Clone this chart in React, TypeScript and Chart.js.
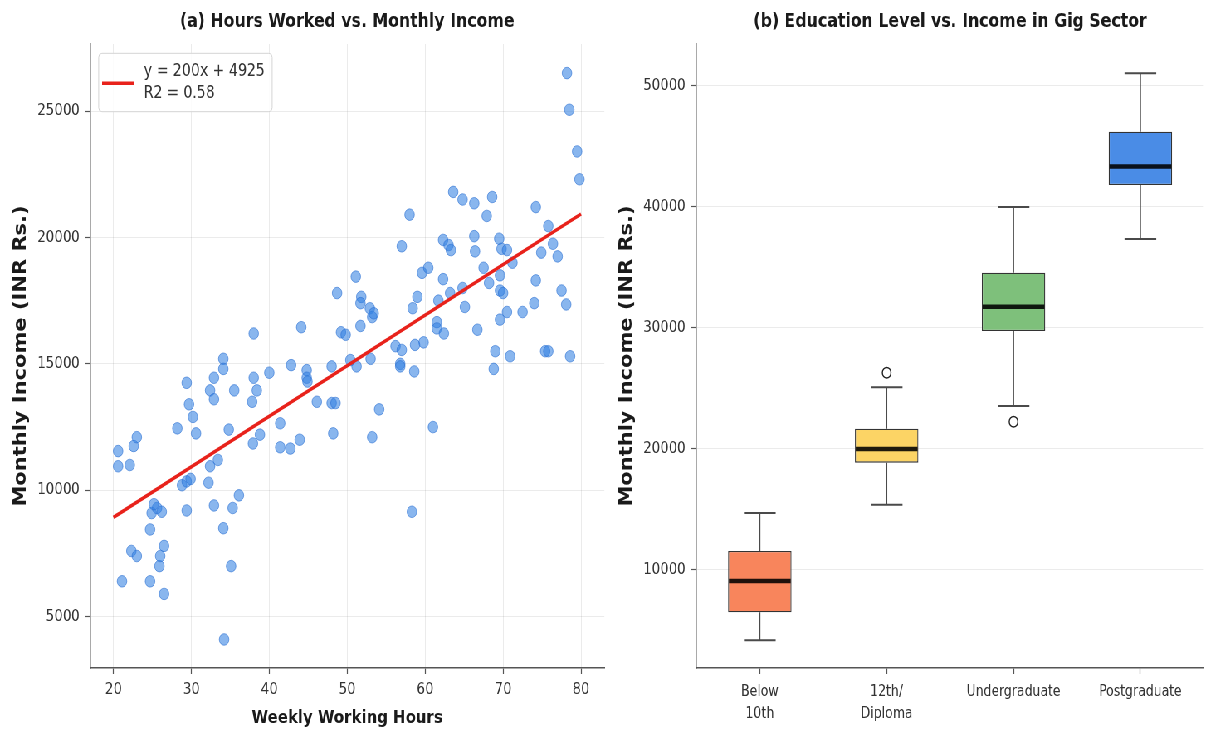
import React, { useEffect, useRef } from 'react';
import Chart from 'chart.js/auto';

// ---- Panel (a): weekly hours vs monthly income ----
const HOURS = [
  21.1, 22.3, 23.0, 24.7, 26.5, 25.9, 26.0, 26.5, 24.7, 24.9, 25.6, 26.2, 25.2, 29.4, 28.8, 29.4, 29.9, 32.2,
  32.9, 36.1, 35.3, 34.1, 35.1, 34.2, 20.6, 20.6, 22.1, 22.6, 23.0, 28.2, 29.4, 29.7, 30.2, 30.6, 32.9, 32.4,
  32.9, 34.1, 34.1, 35.5, 34.8, 33.4, 32.4, 38.0, 38.0, 38.4, 37.8, 37.9, 38.8, 40.0, 41.4, 41.4, 42.7, 43.9,
  44.1, 42.8, 44.8, 44.8, 44.9, 46.1, 48.0, 48.5, 48.2, 48.0, 48.7, 49.2, 49.8, 78.2, 78.5, 79.5, 79.8, 58.0,
  57.0, 63.6, 64.8, 66.3, 68.6, 67.9, 74.2, 75.8, 76.4, 74.9, 77.0, 62.3, 63.0, 63.3, 66.3, 66.4, 69.5, 69.8,
  70.5, 51.1, 51.8, 51.7, 52.9, 53.2, 53.4, 51.7, 59.6, 60.4, 62.3, 67.5, 69.6, 71.2, 74.2, 77.5, 78.1, 68.2,
  64.8, 63.2, 61.7, 59.0, 58.4, 69.6, 70.0, 65.1, 74.0, 72.5, 70.5, 69.6, 61.5, 61.5, 62.4, 66.7, 59.8, 58.7,
  56.2, 57.0, 56.8, 56.8, 58.6, 50.4, 51.2, 53.0, 69.0, 70.9, 68.8, 75.4, 75.8, 78.6, 54.1, 53.2, 61.0, 58.3,
];
const INCOME = [
  6400, 7600, 7400, 6400, 5900, 7000, 7400, 7800, 8450, 9100, 9300, 9150, 9450, 9200, 10200, 10350, 10450, 10300,
  9400, 9800, 9300, 8500, 7000, 4100, 11550, 10950, 11000, 11750, 12100, 12450, 14250, 13400, 12900, 12250, 14450, 13950,
  13600, 15200, 14800, 13950, 12400, 11200, 10950, 16200, 14450, 13950, 13500, 11850, 12200, 14650, 12650, 11700, 11650, 12000,
  16450, 14950, 14750, 14450, 14300, 13500, 13450, 13450, 12250, 14900, 17800, 16250, 16150, 26500, 25050, 23400, 22300, 20900,
  19650, 21800, 21500, 21350, 21600, 20850, 21200, 20450, 19750, 19400, 19250, 19900, 19700, 19500, 20050, 19450, 19950, 19550,
  19500, 18450, 17650, 17400, 17200, 16850, 17000, 16500, 18600, 18800, 18350, 18800, 18500, 19000, 18300, 17900, 17350, 18200,
  18000, 17800, 17500, 17650, 17200, 17900, 17800, 17250, 17400, 17050, 17050, 16750, 16650, 16400, 16200, 16350, 15850, 15750,
  15700, 15550, 15000, 14900, 14700, 15150, 14900, 15200, 15500, 15300, 14800, 15500, 15500, 15300, 13200, 12100, 12500, 9150,
];
const SLOPE = 200;
const INTERCEPT = 4925;
const R2 = 0.58;
const FIT_X = [20, 80];
const HOURS_TICKS = [20, 30, 40, 50, 60, 70, 80];
const INCOME_TICKS = [5000, 10000, 15000, 20000, 25000];

// ---- Panel (b): income by education level ----
const LEVELS: (string | string[])[] = [['Below', '10th'], ['12th/', 'Diploma'], 'Undergraduate', 'Postgraduate'];
const WHISK_LO = [4200, 15400, 23550, 37350];
const Q1 = [6500, 18870, 29750, 41820];
const MEDIAN = [9100, 20000, 31750, 43350];
const Q3 = [11570, 21680, 34570, 46220];
const WHISK_HI = [14700, 25100, 40000, 51050];
const OUTLIERS = [null, 26300, 22250, null];
const BOX_COLORS = ['#f8855c', '#fcd465', '#7ec07b', '#4a8ce6'];
const EDU_TICKS = [10000, 20000, 30000, 40000, 50000];

// The figure is laid out on a wider stage and squeezed horizontally.
const SQUEEZE = 0.83;
const STAGE_W = 1206 / SQUEEZE;
const STAGE_H = 735;
const LEFT_W = 735;
const RIGHT_W = 722;

const FONT = "'DejaVu Sans', sans-serif";
const GRID = 'rgba(0,0,0,0.08)';
const AXIS = '#555';
const TICK_TEXT = '#333';

const fitLegend = {
  id: 'fitLegend',
  afterDatasetsDraw(chart: any) {
    const { ctx, chartArea } = chart;
    const x0 = chartArea.left + 10.4;
    const y0 = chartArea.top + 9.3;
    ctx.save();
    ctx.beginPath();
    ctx.roundRect(x0, y0, 209, 58.4, 4);
    ctx.fillStyle = 'rgba(255,255,255,0.85)';
    ctx.fill();
    ctx.strokeStyle = '#d4d4d4';
    ctx.lineWidth = 1;
    ctx.stroke();
    ctx.beginPath();
    ctx.moveTo(x0 + 4.1, y0 + 30);
    ctx.lineTo(x0 + 42.2, y0 + 30);
    ctx.strokeStyle = '#e8221b';
    ctx.lineWidth = 3.6;
    ctx.stroke();
    ctx.fillStyle = '#333';
    ctx.font = `17px ${FONT}`;
    ctx.textBaseline = 'middle';
    ctx.textAlign = 'left';
    ctx.fillText(`y = ${SLOPE}x + ${INTERCEPT}`, x0 + 54.3, y0 + 18.4);
    ctx.fillText(`R2 = ${R2.toFixed(2)}`, x0 + 54.3, y0 + 40);
    ctx.restore();
  },
};

const boxWhiskers = {
  id: 'boxWhiskers',
  beforeDatasetsDraw(chart: any) {
    const { ctx } = chart;
    const y = chart.scales.y;
    const meta = chart.getDatasetMeta(1);
    ctx.save();
    ctx.strokeStyle = '#4a4a4a';
    meta.data.forEach((bar: any, i: number) => {
      const cx = bar.x;
      const half = bar.width / 4;
      ctx.lineWidth = 1.5;
      ctx.beginPath();
      ctx.moveTo(cx, y.getPixelForValue(Q3[i]));
      ctx.lineTo(cx, y.getPixelForValue(WHISK_HI[i]));
      ctx.moveTo(cx, y.getPixelForValue(Q1[i]));
      ctx.lineTo(cx, y.getPixelForValue(WHISK_LO[i]));
      ctx.stroke();
      ctx.lineWidth = 2;
      ctx.beginPath();
      ctx.moveTo(cx - half, y.getPixelForValue(WHISK_HI[i]));
      ctx.lineTo(cx + half, y.getPixelForValue(WHISK_HI[i]));
      ctx.moveTo(cx - half, y.getPixelForValue(WHISK_LO[i]));
      ctx.lineTo(cx + half, y.getPixelForValue(WHISK_LO[i]));
      ctx.stroke();
    });
    ctx.restore();
  },
  afterDatasetsDraw(chart: any) {
    const { ctx } = chart;
    const y = chart.scales.y;
    const meta = chart.getDatasetMeta(1);
    ctx.save();
    ctx.strokeStyle = 'rgba(0,0,0,0.88)';
    ctx.lineWidth = 4.5;
    meta.data.forEach((bar: any, i: number) => {
      const py = y.getPixelForValue(MEDIAN[i]);
      ctx.beginPath();
      ctx.moveTo(bar.x - bar.width / 2 + 1, py);
      ctx.lineTo(bar.x + bar.width / 2 - 1, py);
      ctx.stroke();
    });
    ctx.restore();
  },
};

export default function App() {
  const leftRef = useRef<HTMLCanvasElement>(null);
  const rightRef = useRef<HTMLCanvasElement>(null);

  useEffect(() => {
    document.body.style.margin = '0';
    Chart.defaults.font.family = FONT;
    Chart.defaults.color = TICK_TEXT;

    const scatterChart = new Chart(leftRef.current as HTMLCanvasElement, {
      type: 'scatter',
      data: {
        datasets: [
          {
            type: 'line',
            label: 'Linear fit',
            data: FIT_X.map((x) => ({ x, y: SLOPE * x + INTERCEPT })),
            borderColor: '#e8221b',
            borderWidth: 3.6,
            pointRadius: 0,
            fill: false,
            tension: 0,
          },
          {
            type: 'scatter',
            label: 'Workers',
            data: HOURS.map((h, i) => ({ x: h, y: INCOME[i] })),
            backgroundColor: 'rgba(52,130,225,0.58)',
            borderColor: 'rgba(40,110,210,0.6)',
            borderWidth: 1,
            pointRadius: 5.8,
          },
        ],
      } as any,
      options: {
        animation: false,
        responsive: false,
        devicePixelRatio: 1,
        layout: { padding: { left: 0, right: LEFT_W - 728.2, top: 0, bottom: 0 } },
        plugins: {
          legend: { display: false },
          tooltip: { enabled: false },
          title: {
            display: true,
            fullSize: false,
            text: '(a) Hours Worked vs. Monthly Income',
            color: '#1a1a1a',
            font: { size: 19, weight: 'bold', lineHeight: 1.2 },
            padding: { top: 10.6, bottom: 10.6 },
          },
        },
        scales: {
          x: {
            type: 'linear',
            min: 17,
            max: 83,
            afterBuildTicks: (s: any) => {
              s.ticks = HOURS_TICKS.map((v) => ({ value: v }));
            },
            afterFit: (s: any) => {
              s.height = 67;
            },
            ticks: { font: { size: 16 }, color: TICK_TEXT, padding: 6.4, callback: (v: any) => String(v) },
            grid: { color: GRID, tickColor: AXIS, tickLength: 6, tickWidth: 1.2 },
            border: { display: true, color: AXIS, width: 1.5 },
            title: {
              display: true,
              text: 'Weekly Working Hours',
              color: '#1a1a1a',
              font: { size: 18, weight: 'bold', lineHeight: 1.2 },
              padding: { top: 0, bottom: 6.2 },
            },
          },
          y: {
            type: 'linear',
            min: 2971,
            max: 27650,
            afterBuildTicks: (s: any) => {
              s.ticks = INCOME_TICKS.map((v) => ({ value: v }));
            },
            afterFit: (s: any) => {
              s.width = 108.5;
            },
            ticks: { font: { size: 16 }, color: TICK_TEXT, padding: 6.5, callback: (v: any) => String(v) },
            grid: { color: GRID, tickColor: AXIS, tickLength: 6, tickWidth: 1.2 },
            border: { display: true, color: AXIS, width: 1.5 },
            title: {
              display: true,
              text: 'Monthly Income (INR Rs.)',
              color: '#1a1a1a',
              font: { size: 21, weight: 'bold', lineHeight: 1.2 },
              padding: { top: 12.7, bottom: 0 },
            },
          },
        },
      } as any,
      plugins: [fitLegend],
    });

    const boxChart = new Chart(rightRef.current as HTMLCanvasElement, {
      type: 'bar',
      data: {
        labels: LEVELS,
        datasets: [
          {
            type: 'line',
            label: 'Outliers',
            data: OUTLIERS,
            showLine: false,
            pointRadius: 5.2,
            pointBackgroundColor: 'rgba(0,0,0,0)',
            pointBorderColor: '#222',
            pointBorderWidth: 1.4,
          },
          {
            type: 'bar',
            label: 'Interquartile range',
            data: Q1.map((q, i) => [q, Q3[i]]),
            backgroundColor: BOX_COLORS,
            borderColor: '#333',
            borderWidth: 1.3,
            borderSkipped: false,
            barPercentage: 0.5,
            categoryPercentage: 1,
          },
        ],
      } as any,
      options: {
        animation: false,
        responsive: false,
        devicePixelRatio: 1,
        layout: { padding: { left: 0, right: 0, top: 0, bottom: 0 } },
        plugins: {
          legend: { display: false },
          tooltip: { enabled: false },
          title: {
            display: true,
            fullSize: false,
            text: '(b) Education Level vs. Income in Gig Sector',
            color: '#1a1a1a',
            font: { size: 19, weight: 'bold', lineHeight: 1.2 },
            padding: { top: 10.6, bottom: 10.6 },
          },
        },
        scales: {
          x: {
            type: 'category',
            offset: true,
            afterFit: (s: any) => {
              s.height = 67;
            },
            ticks: { font: { size: 15, lineHeight: 1.5 }, color: TICK_TEXT, padding: 6.5, maxRotation: 0, autoSkip: false },
            grid: { drawOnChartArea: false, offset: false, tickColor: AXIS, tickLength: 6, tickWidth: 1.2 },
            border: { display: true, color: AXIS, width: 1.5 },
          },
          y: {
            type: 'linear',
            min: 1900,
            max: 53470,
            afterBuildTicks: (s: any) => {
              s.ticks = EDU_TICKS.map((v) => ({ value: v }));
            },
            afterFit: (s: any) => {
              s.width = 104;
            },
            ticks: { font: { size: 16 }, color: TICK_TEXT, padding: 7, callback: (v: any) => String(v) },
            grid: { color: GRID, tickColor: AXIS, tickLength: 6, tickWidth: 1.2 },
            border: { display: true, color: AXIS, width: 1.5 },
            title: {
              display: true,
              text: 'Monthly Income (INR Rs.)',
              color: '#1a1a1a',
              font: { size: 21, weight: 'bold', lineHeight: 1.2 },
              padding: { top: 7.9, bottom: 0 },
            },
          },
        },
      } as any,
      plugins: [boxWhiskers],
    });

    return () => {
      scatterChart.destroy();
      boxChart.destroy();
    };
  }, []);

  return (
    <div style={{ position: 'relative', width: 1206, height: STAGE_H, overflow: 'hidden', background: '#fff' }}>
      <div
        style={{
          position: 'absolute',
          left: 0,
          top: 0,
          width: STAGE_W,
          height: STAGE_H,
          transform: `scaleX(${SQUEEZE})`,
          transformOrigin: '0 0',
        }}
      >
        <canvas ref={leftRef} width={LEFT_W} height={STAGE_H} style={{ position: 'absolute', left: 0, top: 0 }} />
        <canvas ref={rightRef} width={RIGHT_W} height={STAGE_H} style={{ position: 'absolute', left: LEFT_W, top: 0 }} />
      </div>
    </div>
  );
}
